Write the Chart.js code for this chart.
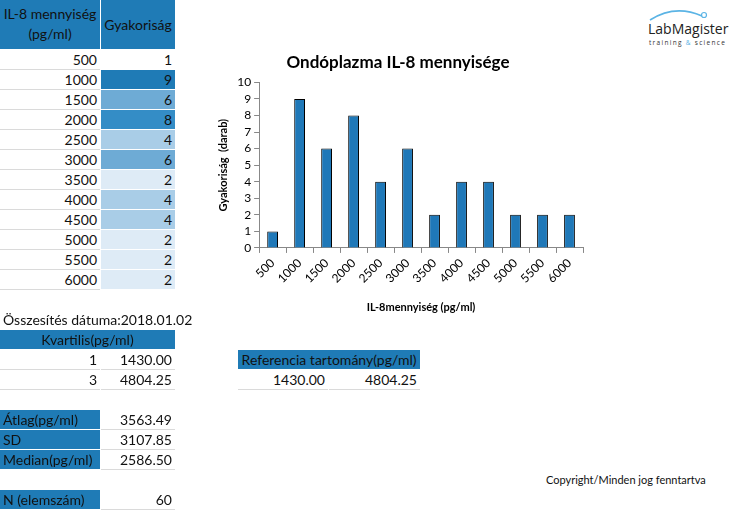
<!DOCTYPE html>
<html>
<head>
<meta charset="utf-8">
<script src="https://cdn.jsdelivr.net/npm/chart.js@4.4.1/dist/chart.umd.min.js"></script>
<style>
body { margin: 0; background: #fff; font-family: Lato, "Open Sans", sans-serif; color: #111; }
#page { position: relative; width: 740px; height: 530px; overflow: hidden; }
.cell { position: absolute; box-sizing: border-box; height: 20px; line-height: 20px; font-size: 14px; padding: 0 3px; white-space: nowrap; border-bottom: 1px solid #dadada; }
.hdr { background: #1f7bb6; border-bottom: 1px solid #fff; }
.r { text-align: right; }
.c { text-align: center; }
#chartBox { position: absolute; left: 193px; top: 44px; width: 412px; height: 274px; }
</style>
</head>
<body>
<div id="page">
  <div id="chartBox"><canvas id="barChart"></canvas></div>
  <svg style="position:absolute;left:640px;top:4px" width="95" height="45">
    <path d="M10 16 Q 35 0 62 12" fill="none" stroke="#5bb4e5" stroke-width="1.6"/>
    <circle cx="64" cy="11" r="2.5" fill="none" stroke="#5bb4e5" stroke-width="1.2"/>
    <text x="8" y="30" font-family="Open Sans, sans-serif" font-size="14" fill="#222">LabMagister</text>
    <text x="9" y="41" font-family="Open Sans, sans-serif" font-size="6.5" letter-spacing="1.3" fill="#333">training <tspan fill="#5bb4e5">&amp;</tspan> science</text>
  </svg>
  <div style="position:absolute;left:546px;top:473px;font-size:11px;">Copyright/Minden jog fenntartva</div>
</div>
<script>
// DATA
const categories = ["500", "1000", "1500", "2000", "2500", "3000", "3500", "4000", "4500", "5000", "5500", "6000"];
const counts = [1, 9, 6, 8, 4, 6, 2, 4, 4, 2, 2, 2];
const yTicks = [0, 1, 2, 3, 4, 5, 6, 7, 8, 9, 10];
const quartiles = ["1", "3"];
const quartileValues = ["1430.00", "4804.25"];
const refRange = ["1430.00", "4804.25"];
const statNames = ["Átlag(pg/ml)", "SD", "Median(pg/ml)"];
const statValues = ["3563.49", "3107.85", "2586.50"];
const nValue = "60";
const summaryDate = "2018.01.02";

const page = document.getElementById("page");
function cell(x, y, w, h, text, cls) {
    const d = document.createElement("div");
    d.className = "cell " + (cls || "");
    d.style.left = x + "px";
    d.style.top = y + "px";
    d.style.width = w + "px";
    d.style.height = h + "px";
    d.textContent = text;
    page.appendChild(d);
    return d;
}

// frequency table
const h1 = cell(0, 0, 100, 50, "", "hdr c");
h1.style.lineHeight = "20px";
h1.style.paddingTop = "4px";
h1.innerHTML = "IL-8 mennyiség<br>(pg/ml)";
const h2 = cell(101, 0, 74, 50, "Gyakoriság", "hdr c");
h2.style.lineHeight = "50px";

const heat = { 9: "#1f7bb6", 8: "#348dc6", 6: "#6eabd5", 4: "#a9cde7", 2: "#deebf6", 1: "#ffffff" };
categories.forEach((c, i) => {
    const y = 50 + i * 20;
    cell(0, y, 100, 20, c, "r");
    const v = cell(101, y, 74, 20, counts[i], "r");
    v.style.background = heat[counts[i]];
    v.style.borderBottom = "1px solid #fff";
});

// summary
const dt = cell(0, 310, 200, 20, "Összesítés dátuma:" + summaryDate, "");
dt.style.borderBottom = "none";
cell(0, 330, 175, 20, "Kvartilis(pg/ml)", "hdr c");
quartiles.forEach((q, i) => {
    cell(0, 350 + i * 20, 100, 20, q, "r");
    cell(101, 350 + i * 20, 74, 20, quartileValues[i], "r");
});
statNames.forEach((s, i) => {
    cell(0, 410 + i * 20, 100, 20, s, "hdr");
    cell(101, 410 + i * 20, 74, 20, statValues[i], "r");
});
cell(0, 490, 100, 20, "N (elemszám)", "hdr");
cell(101, 490, 74, 20, nValue, "r");

cell(238, 350, 182, 20, "Referencia tartomány(pg/ml)", "hdr c");
cell(238, 370, 90, 20, refRange[0], "r");
cell(329, 370, 91, 20, refRange[1], "r");

// BAR CHART
new Chart(document.getElementById("barChart"), {
    type: "bar",
    data: {
        labels: categories,
        datasets: [{
            data: counts,
            backgroundColor: "#1f78b8",
            borderColor: "#000",
            borderWidth: 1,
            barPercentage: 0.4,
            categoryPercentage: 1
        }]
    },
    options: {
        responsive: true,
        maintainAspectRatio: false,
        animation: false,
        layout: { padding: { left: 20, right: 22, top: 0, bottom: 0 } },
        plugins: {
            legend: { display: false },
            tooltip: { enabled: false },
            title: {
                display: true,
                text: "Ondóplazma IL-8 mennyisége",
                color: "#000",
                font: { family: "Lato", size: 17, weight: "bold" },
                padding: { top: 8, bottom: 10 }
            }
        },
        scales: {
            x: {
                grid: { display: true, drawOnChartArea: false, drawTicks: true, tickLength: 5, color: "#888" },
                border: { display: true, color: "#888" },
                ticks: { color: "#000", minRotation: 45, maxRotation: 45, font: { family: "Lato", size: 12 } },
                title: { display: true, text: "IL-8mennyiség (pg/ml)", color: "#000", font: { family: "Lato", size: 11, weight: "bold" }, padding: { top: 12 } }
            },
            y: {
                min: 0,
                max: 10,
                afterBuildTicks: (axis) => { axis.ticks = yTicks.map(v => ({ value: v })); },
                grid: { display: true, drawOnChartArea: false, drawTicks: true, tickLength: 5, color: "#888" },
                border: { display: true, color: "#888" },
                ticks: { color: "#000", autoSkip: false, font: { family: "Lato", size: 12 } },
                title: { display: true, text: "Gyakoriság  (darab)", color: "#000", font: { family: "Lato", size: 11, weight: "bold" }, padding: { bottom: 4 } }
            }
        }
    }
});
</script>
</body>
</html>
